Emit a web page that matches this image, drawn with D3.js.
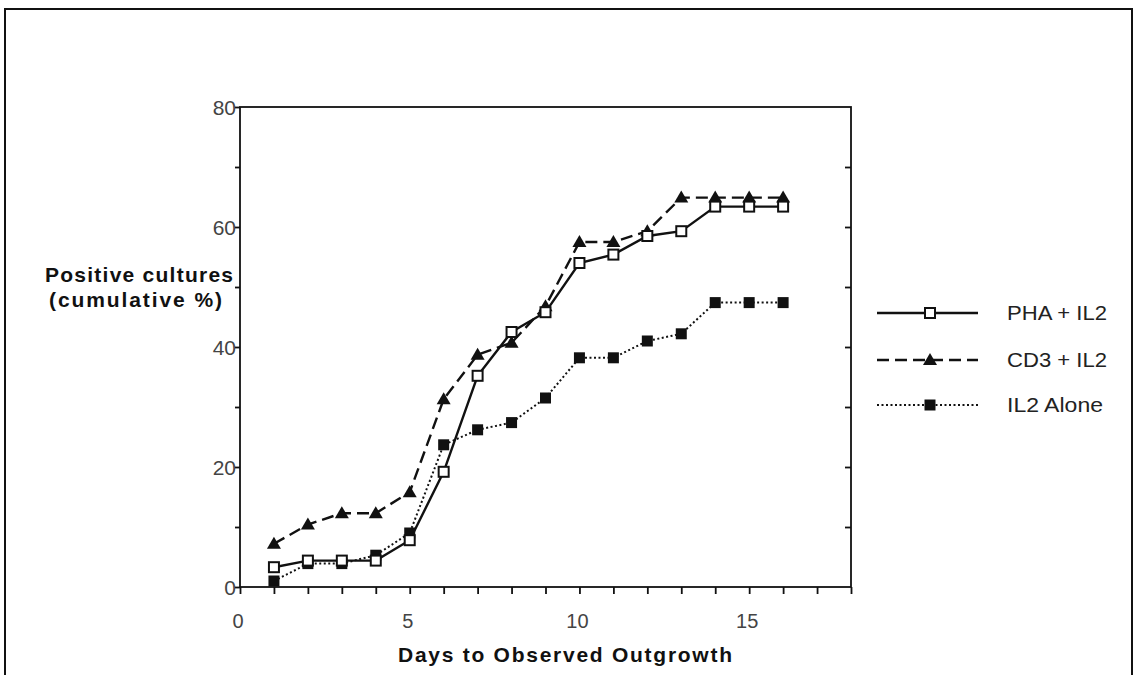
<!DOCTYPE html>
<html><head><meta charset="utf-8">
<script src="https://cdn.jsdelivr.net/npm/d3@7"></script>
<style>body{margin:0;background:#fff}svg{display:block}</style>
</head><body>
<svg id="c" width="1136" height="675"></svg>
<script>
const days = [1,2,3,4,5,6,7,8,9,10,11,12,13,14,15,16];
const phaIL2 = [3.3,4.4,4.4,4.4,7.8,19.2,35.2,42.5,45.8,54.0,55.4,58.5,59.3,63.4,63.4,63.4];
const cd3IL2 = [7.2,10.4,12.3,12.3,15.8,31.3,38.7,40.7,46.8,57.5,57.5,59.3,64.9,64.9,64.9,64.9];
const il2Alone = [1.0,3.9,3.9,5.3,9.0,23.7,26.2,27.4,31.5,38.2,38.2,41.0,42.2,47.4,47.4,47.4];
const seriesNames = ["PHA + IL2","CD3 + IL2","IL2 Alone"];
const xTickLabels = [0,5,10,15];
const yTickLabels = [0,20,40,60,80];

const svg = d3.select("#c");
const font = "'Liberation Sans', Arial, Helvetica, sans-serif";

// outer frame
svg.append("rect").attr("x",5).attr("y",9).attr("width",1127).attr("height",700)
  .attr("fill","none").attr("stroke","#111").attr("stroke-width",2);

const x = d3.scaleLinear().domain([0,18]).range([240,851]);
const y = d3.scaleLinear().domain([0,80]).range([587,107]);

// plot frame
svg.append("rect").attr("x",x(0)).attr("y",y(80)).attr("width",x(18)-x(0)).attr("height",y(0)-y(80))
  .attr("fill","none").attr("stroke","#111").attr("stroke-width",1.8);

// x axis
const xAxis = d3.axisBottom(x).tickValues(d3.range(0,19)).tickSize(7).tickFormat("");
const gx = svg.append("g").attr("transform",`translate(0,${y(0)})`).call(xAxis);
gx.select(".domain").remove();
gx.selectAll(".tick line").attr("stroke","#111").attr("stroke-width",1.8);
svg.append("g").selectAll("text").data(xTickLabels).join("text")
  .attr("x", d=>x(d)-2).attr("y", y(0)+41).attr("text-anchor","middle")
  .attr("font-family",font).attr("font-size",20).attr("fill","#444").text(d=>d);

// y axis left
const yAxisL = d3.axisLeft(y).tickValues(d3.range(0,81,10)).tickSize(5).tickFormat("");
const gyl = svg.append("g").attr("transform",`translate(${x(0)},0)`).call(yAxisL);
gyl.select(".domain").remove();
gyl.selectAll(".tick line").attr("stroke","#111").attr("stroke-width",1.8);
svg.append("g").selectAll("text").data(yTickLabels).join("text")
  .attr("x", x(0)-4).attr("y", d=>y(d)+8).attr("text-anchor","end")
  .attr("font-family",font).attr("font-size",21).attr("fill","#444").text(d=>d);

// y axis right (inward ticks)
const yAxisR = d3.axisLeft(y).tickValues(d3.range(10,80,10)).tickSize(6).tickFormat("");
const gyr = svg.append("g").attr("transform",`translate(${x(18)},0)`).call(yAxisR);
gyr.select(".domain").remove();
gyr.selectAll(".tick line").attr("stroke","#111").attr("stroke-width",1.8);

// axis titles
svg.append("text").attr("x",45).attr("y",282).attr("textLength",188).attr("lengthAdjust","spacing")
  .attr("font-family",font).attr("font-size",21).attr("font-weight","bold").attr("fill","#111")
  .text("Positive cultures");
svg.append("text").attr("x",49).attr("y",307).attr("textLength",173).attr("lengthAdjust","spacing")
  .attr("font-family",font).attr("font-size",21).attr("font-weight","bold").attr("fill","#111")
  .text("(cumulative %)");
svg.append("text").attr("x",398).attr("y",662).attr("textLength",334).attr("lengthAdjust","spacing")
  .attr("font-family",font).attr("font-size",21).attr("font-weight","bold").attr("fill","#111")
  .text("Days to Observed Outgrowth");

const styles = [
  {vals: phaIL2, dash: null, width: 2.4, marker: "open"},
  {vals: cd3IL2, dash: "12,6", width: 2.4, marker: "tri"},
  {vals: il2Alone, dash: "2,2.5", width: 2, marker: "filled"}
];

const line = d3.line().x((d,i)=>x(days[i])).y(d=>y(d));

function drawMarker(g, type, cx, cy) {
  if (type === "open") {
    g.append("rect").attr("x",cx-5).attr("y",cy-5).attr("width",10).attr("height",10)
      .attr("fill","#fff").attr("stroke","#111").attr("stroke-width",2);
  } else if (type === "tri") {
    g.append("path").attr("d",`M${cx},${cy-7}L${cx+7},${cy+5}L${cx-7},${cy+5}Z`).attr("fill","#111");
  } else {
    g.append("rect").attr("x",cx-5.5).attr("y",cy-5.5).attr("width",11).attr("height",11).attr("fill","#111");
  }
}

[2,1,0].forEach(k=>{
  const s = styles[k];
  svg.append("path").datum(s.vals).attr("d",line).attr("fill","none")
    .attr("stroke","#111").attr("stroke-width",s.width)
    .attr("stroke-dasharray",s.dash);
});
[2,1,0].forEach(k=>{
  const s = styles[k];
  const g = svg.append("g");
  s.vals.forEach((v,i)=>drawMarker(g, s.marker, x(days[i]), y(v)));
});

// legend
const legY = [313,360,405];
const legW = [100,100,96];
seriesNames.forEach((name,k)=>{
  const s = styles[k];
  const g = svg.append("g");
  g.append("line").attr("x1",877).attr("x2",978).attr("y1",legY[k]).attr("y2",legY[k])
    .attr("stroke","#111").attr("stroke-width",s.width).attr("stroke-dasharray",s.dash);
  drawMarker(g, s.marker, 930, legY[k]);
  g.append("text").attr("x",1007).attr("y",legY[k]+7).attr("font-family",font)
    .attr("textLength",legW[k]).attr("lengthAdjust","spacingAndGlyphs")
    .attr("font-size",21).attr("fill","#222").text(name);
});
</script>
</body></html>
